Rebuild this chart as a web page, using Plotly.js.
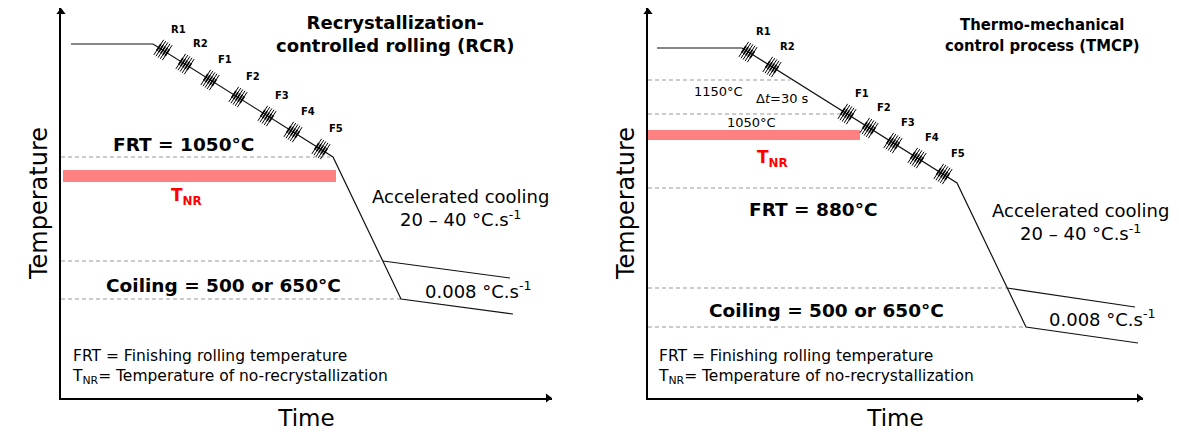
<!DOCTYPE html>
<html><head><meta charset="utf-8">
<script src="https://cdn.plot.ly/plotly-3.0.1.min.js"></script>
<style>html,body{margin:0;padding:0;background:#fff;} #chart{width:1179px;height:435px;}</style>
</head><body><div id="chart"></div>
<script>
// ---------- Panel (a): Recrystallization-controlled rolling (schematic units) ----------
const pathA_t = [10, 92, 272, 340, 452];
const pathA_T = [354, 354, 241, 99, 84];
const branchA_t = [322, 449];
const branchA_T = [137, 120];
const passNames = ['R1', 'R2', 'F1', 'F2', 'F3', 'F4', 'F5'];
const passA_t = [102, 124, 149, 177, 206, 232, 260];
const passA_T = [348, 334, 318, 301, 282, 266, 249];
const refA_T = [241, 137, 99];          // FRT, coiling upper, coiling lower
const refA_end = [269, 322, 340];
const tnrA_T = [216, 228];
const tnrA_t = [2, 275];

// ---------- Panel (b): Thermo-mechanical control process (schematic units) ----------
const pathB_t = [9, 94, 309, 378, 490];
const pathB_T = [350, 350, 215, 71, 55];
const branchB_t = [359, 487];
const branchB_T = [110, 91];
const passB_t = [100, 124, 199, 221, 245, 269, 295];
const passB_T = [346, 331, 284, 270, 255, 240, 224];
const refB_T = [318, 284, 210, 110, 71]; // 1150, 1050, FRT, coiling upper, coiling lower
const refB_end = [142, 192, 285, 359, 378];
const tnrB_T = [258, 268];
const tnrB_t = [0, 212];

// ---------- helpers ----------
function rollStrokes(ts, Ts, half) {
  const xs = [], ys = [];
  const n = Math.hypot(1, 0.628), ux = 1 / n, uy = -0.628 / n;
  const ang = 57 * Math.PI / 180, vx = Math.cos(ang), vy = Math.sin(ang);
  const gap = 2.5;
  for (let i = 0; i < ts.length; i++) {
    for (let k = -2; k <= 2; k++) {
      const cx = ts[i] + k * gap * ux, cy = Ts[i] + k * gap * uy;
      xs.push(cx - half * vx, cx + half * vx, null);
      ys.push(cy - half * vy, cy + half * vy, null);
    }
  }
  return {xs, ys};
}
function dashed(levels, ends) {
  const xs = [], ys = [];
  levels.forEach((v, i) => { xs.push(0, ends[i], null); ys.push(v, v, null); });
  return {xs, ys};
}
const LINE = {color: '#111', width: 1.2};
const DASH = {color: '#9a9a9a', width: 1.1, dash: '4px,3px'};

function panelTraces(xa, ya, pt, pT, bt, bT, st, sT, lv, le, xmax) {
  const r = rollStrokes(st, sT, 9), rc = rollStrokes(st, sT, 4), d = dashed(lv, le);
  return [
    {x: d.xs, y: d.ys, xaxis: xa, yaxis: ya, mode: 'lines', line: DASH, hoverinfo: 'skip'},
    {x: pt, y: pT, xaxis: xa, yaxis: ya, mode: 'lines', line: LINE, hoverinfo: 'skip'},
    {x: bt, y: bT, xaxis: xa, yaxis: ya, mode: 'lines', line: LINE, hoverinfo: 'skip'},
    {x: r.xs, y: r.ys, xaxis: xa, yaxis: ya, mode: 'lines', line: {color: '#000', width: 1}, hoverinfo: 'skip'},
    {x: rc.xs, y: rc.ys, xaxis: xa, yaxis: ya, mode: 'lines', line: {color: '#000', width: 1.7}, hoverinfo: 'skip'},
    {x: [0, xmax - 4], y: [386, 0], xaxis: xa, yaxis: ya, mode: 'markers', cliponaxis: false,
     marker: {symbol: ['triangle-up', 'triangle-right'], size: 8, color: '#000'}, hoverinfo: 'skip'}
  ];
}

const data = [
  ...panelTraces('x', 'y', pathA_t, pathA_T, branchA_t, branchA_T, passA_t, passA_T, refA_T, refA_end, 491),
  ...panelTraces('x2', 'y2', pathB_t, pathB_T, branchB_t, branchB_T, passB_t, passB_T, refB_T, refB_end, 495)
];

const shapes = [
  {type: 'rect', xref: 'x', yref: 'y', x0: tnrA_t[0], x1: tnrA_t[1], y0: tnrA_T[0], y1: tnrA_T[1], fillcolor: '#FF8080', line: {width: 0}, layer: 'below'},
  {type: 'rect', xref: 'x2', yref: 'y2', x0: tnrB_t[0], x1: tnrB_t[1], y0: tnrB_T[0], y1: tnrB_T[1], fillcolor: '#FF8080', line: {width: 0}, layer: 'below'}
];

const F = 'DejaVu Sans, Verdana, sans-serif';
const FC = 'DejaVu Sans Condensed, Liberation Sans, sans-serif';
function ann(xr, yr, x, y, text, size, opts) {
  return Object.assign({xref: xr, yref: yr, x: x, y: y, text: text, showarrow: false,
    font: {family: F, size: size, color: '#000'}, xanchor: 'center', yanchor: 'middle'}, opts || {});
}
const annotations = [];
passNames.forEach((n, i) => {
  annotations.push(ann('x', 'y', passA_t[i], passA_T[i], '<b>' + n + '</b>', 10, {xshift: 15, yshift: 21}));
  annotations.push(ann('x2', 'y2', passB_t[i], passB_T[i], '<b>' + n + '</b>', 10, {xshift: 15, yshift: 21}));
});
const legendText = 'FRT = Finishing rolling temperature<br>T<sub>NR</sub>= Temperature of no-recrystallization';
annotations.push(
  ann('x', 'y', -49, 370, '(a)', 27, {xanchor: 'left'}),
  ann('x', 'y', 334, 364, '<b>Recrystallization-<br>controlled rolling (RCR)</b>', 18),
  ann('x', 'y', 122, 254, '<b>FRT = 1050°C</b>', 18.5),
  ann('x', 'y', 125, 202, '<b>T<sub>NR</sub></b>', 17, {font: {family: F, size: 17, color: '#FF0000'}}),
  ann('x', 'y', 399, 190, 'Accelerated cooling<br>20 – 40 °C.s<sup>-1</sup>', 18),
  ann('x', 'y', 162, 113, '<b>Coiling = 500 or 650°C</b>', 18.5),
  ann('x', 'y', 362, 108, '0.008 °C.s<sup>-1</sup>', 18, {xanchor: 'left'}),
  ann('x', 'y', 9, 31.5, legendText, 15.5, {xanchor: 'left', align: 'left'}),

  ann('x2', 'y2', -58, 370, '(b)', 27, {xanchor: 'left'}),
  ann('x2', 'y2', 394, 363, '<b>Thermo-mechanical<br>control process (TMCP)</b>', 16.5, {font: {family: FC, size: 16.5, color: '#000'}}),
  ann('x2', 'y2', 70, 307, '1150°C', 13),
  ann('x2', 'y2', 134, 300, 'Δ<i>t</i>=30 s', 13),
  ann('x2', 'y2', 103, 276, '1050°C', 13),
  ann('x2', 'y2', 124, 240, '<b>T<sub>NR</sub></b>', 17, {font: {family: F, size: 17, color: '#FF0000'}}),
  ann('x2', 'y2', 165, 189, '<b>FRT = 880°C</b>', 18.5),
  ann('x2', 'y2', 432, 176, 'Accelerated cooling<br>20 – 40 °C.s<sup>-1</sup>', 18),
  ann('x2', 'y2', 178, 88, '<b>Coiling = 500 or 650°C</b>', 18.5),
  ann('x2', 'y2', 399, 80, '0.008 °C.s<sup>-1</sup>', 18, {xanchor: 'left'}),
  ann('x2', 'y2', 8, 31.5, legendText, 15.5, {xanchor: 'left', align: 'left'})
);

function xAx(dom, rng, anchor) {
  return {domain: dom, range: rng, anchor: anchor, showline: true, linecolor: '#000', linewidth: 1.8,
    showgrid: false, zeroline: false, showticklabels: false, ticks: '', fixedrange: true, automargin: false,
    title: {text: 'Time', font: {family: F, size: 23, color: '#000'}, standoff: 11}};
}
function yAx(dom, rng, anchor) {
  return {domain: dom, range: rng, anchor: anchor, showline: true, linecolor: '#000', linewidth: 1.8,
    showgrid: false, zeroline: false, showticklabels: false, ticks: '', fixedrange: true, automargin: false,
    title: {text: 'Temperature', font: {family: F, size: 24, color: '#000'}, standoff: 5}};
}
const yDom = [37 / 435, 427 / 435];
const layout = {
  width: 1179, height: 435, margin: {l: 0, r: 0, t: 0, b: 0},
  paper_bgcolor: '#fff', plot_bgcolor: 'rgba(0,0,0,0)', showlegend: false,
  font: {family: F, color: '#000'},
  xaxis: xAx([61 / 1179, 552 / 1179], [0, 491], 'y'),
  yaxis: yAx(yDom, [0, 390], 'x'),
  xaxis2: xAx([648 / 1179, 1143 / 1179], [0, 495], 'y2'),
  yaxis2: yAx(yDom, [0, 390], 'x2'),
  shapes: shapes, annotations: annotations
};
Plotly.newPlot('chart', data, layout, {displayModeBar: false, staticPlot: true});
</script></body></html>
